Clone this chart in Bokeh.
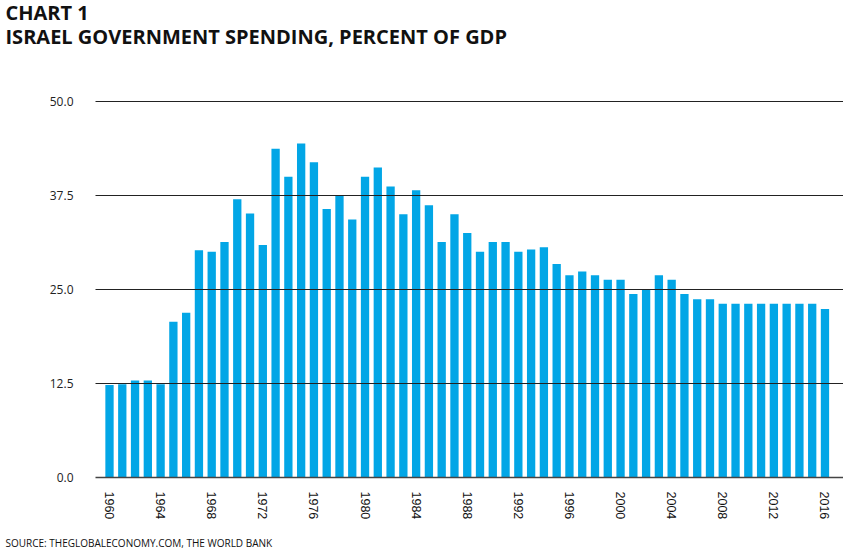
from bokeh.plotting import figure
from bokeh.models import Range1d, FixedTicker, Title, NumeralTickFormatter
from bokeh.embed import file_html
from bokeh.resources import INLINE

# ---- data ----
years = list(range(1960, 2017))
spending = [
    12.3, 12.4, 12.9, 12.9, 12.4, 20.7, 21.9, 30.2, 30.0, 31.3,   # 1960-1969
    37.0, 35.1, 30.9, 43.7, 40.0, 44.4, 41.9, 35.7, 37.5, 34.3,   # 1970-1979
    40.0, 41.2, 38.7, 35.0, 38.2, 36.2, 31.3, 35.0, 32.5, 30.0,   # 1980-1989
    31.3, 31.3, 30.0, 30.3, 30.6, 28.4, 26.9, 27.4, 26.9, 26.3,   # 1990-1999
    26.3, 24.4, 25.0, 26.9, 26.3, 24.4, 23.7, 23.7, 23.1, 23.1,   # 2000-2009
    23.1, 23.1, 23.1, 23.1, 23.1, 23.1, 22.4,                     # 2010-2016
]
x_tick_years = list(range(1960, 2017, 4))
y_ticks = [0, 12.5, 25, 37.5, 50]
title_1 = "CHART 1"
title_2 = "ISRAEL GOVERNMENT SPENDING, PERCENT OF GDP"
source_text = "SOURCE: THEGLOBALECONOMY.COM, THE WORLD BANK"

BAR_COLOR = "#02A6E6"

p = figure(
    width=843, height=549, output_backend="svg", toolbar_location=None,
    title=None,
    x_range=Range1d(1958.904, 2017.45), y_range=Range1d(0, 57.17),
    min_border_left=95, min_border_right=0, min_border_top=0, min_border_bottom=0,
)
p.outline_line_color = None
p.background_fill_color = "white"
p.border_fill_color = "white"

p.vbar(x=years, top=spending, bottom=0, width=0.65, color=BAR_COLOR, line_color=None)

# titles (later-added is farther from the frame)
p.add_layout(Title(text=title_2, text_font="Open Sans", text_font_style="bold",
                   text_font_size="20px", text_color="#111111", align="left",
                   offset=-90, standoff=-4), "above")
p.add_layout(Title(text=title_1, text_font="Open Sans", text_font_style="bold",
                   text_font_size="20px", text_color="#111111", align="left",
                   offset=-90, standoff=-7.5), "above")
p.add_layout(Title(text=source_text, text_font="Open Sans", text_font_style="normal",
                   text_font_size="10px", text_color="#111111", align="left",
                   offset=-90, standoff=0), "below")

# grid
p.xgrid.visible = False
p.ygrid.ticker = FixedTicker(ticks=[12.5, 25, 37.5, 50])
p.ygrid.grid_line_color = "#222222"
p.ygrid.grid_line_width = 1
p.ygrid.level = "overlay"

# y axis
p.yaxis.ticker = FixedTicker(ticks=y_ticks)
p.yaxis.formatter = NumeralTickFormatter(format="0.0")
p.yaxis.axis_line_color = None
p.yaxis.major_tick_line_color = None
p.yaxis.minor_tick_line_color = None
p.yaxis.major_tick_out = 0
p.yaxis.major_tick_in = 0
p.yaxis.major_label_standoff = 22
p.yaxis.major_label_text_font = "Open Sans"
p.yaxis.major_label_text_font_size = "12px"
p.yaxis.major_label_text_color = "#222222"

# x axis
p.xaxis.ticker = FixedTicker(ticks=x_tick_years)
p.xaxis.major_label_orientation = "vertical"
p.xaxis.axis_line_color = "#444444"
p.xaxis.axis_line_width = 1.5
p.xaxis.major_tick_line_color = None
p.xaxis.minor_tick_line_color = None
p.xaxis.major_tick_out = 0
p.xaxis.major_tick_in = 0
p.xaxis.major_label_standoff = 14
p.xaxis.major_label_text_font = "Liberation Sans"
p.xaxis.major_label_text_font_size = "12.5px"
p.xaxis.major_label_text_color = "#111111"
# invisible spacer between the year labels and the source line
p.xaxis.axis_label = " "
p.xaxis.axis_label_text_font_size = "1px"
p.xaxis.axis_label_standoff = 7

open("out.html", "w").write(file_html(p, INLINE))
